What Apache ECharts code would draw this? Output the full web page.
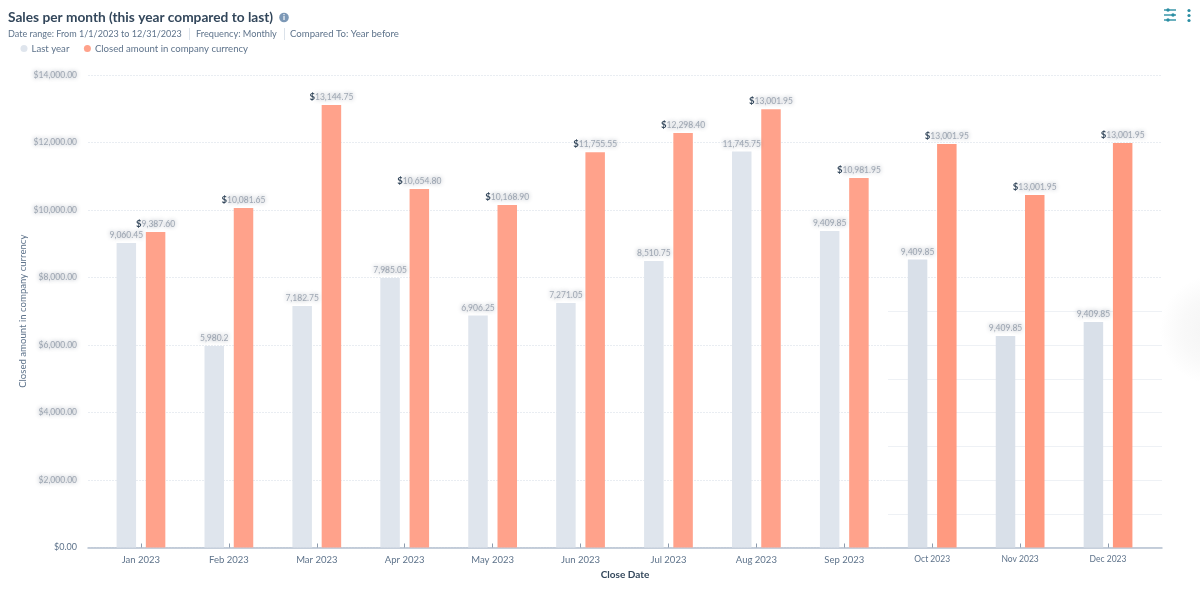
<!DOCTYPE html>
<html><head><meta charset="utf-8">
<style>html,body{margin:0;padding:0;background:#fff}#c{width:1200px;height:597px}</style>
<script src="https://cdn.jsdelivr.net/npm/echarts@6/dist/echarts.min.js"></script>
</head><body><div id="c"></div>
<script>
const categories=['Jan 2023','Feb 2023','Mar 2023','Apr 2023','May 2023','Jun 2023','Jul 2023','Aug 2023','Sep 2023','Oct 2023','Nov 2023','Dec 2023'];
const lastYear=[9022,5970,7155,7985,6874,7244,8489,11730,9378,8533,6267,6681];
const current=[9348,10059,13111,10625,10148,11710,12280,12985,10948,11955,10444,11985];
const lastYearLabels=['9,060.45','5,980.2','7,182.75','7,985.05','6,906.25','7,271.05','8,510.75','11,745.75','9,409.85','9,409.85','9,409.85','9,409.85'];
const currentLabels=['9,387.60','10,081.65','13,144.75','10,654.80','10,168.90','11,755.55','12,298.40','13,001.95','10,981.95','13,001.95','13,001.95','13,001.95'];
const yTicks=['$0.00','$2,000.00','$4,000.00','$6,000.00','$8,000.00','$10,000.00','$12,000.00','$14,000.00'];
const F='Lato';
const sub='#5e738b';
const blur={color:'rgba(95,110,130,0.55)',textShadowColor:'rgba(50,65,90,1)',textShadowBlur:4,fontFamily:F,fontSize:8.5};
const chart=echarts.init(document.getElementById('c'),null,{renderer:'canvas'});
const txt=(x,y,t,o={})=>({type:'text',x,y,silent:true,style:Object.assign({text:t,fill:sub,font:`9.2px ${F}`,textVerticalAlign:'middle'},o)});
const sep=x=>({type:'line',silent:true,shape:{x1:x,y1:28,x2:x,y2:40},style:{stroke:'#dbe2ea',lineWidth:1}});
const teal='#2b8ea3';
const slider=(y,kx)=>[{type:'line',silent:true,shape:{x1:1164,y1:y,x2:1176,y2:y},style:{stroke:teal,lineWidth:1.4}},{type:'circle',silent:true,shape:{cx:kx,cy:y,r:1.7},style:{fill:teal}}];
chart.setOption({
 animation:false,
 backgroundColor:'#fff',
 textStyle:{fontFamily:F},
 legend:{left:20.5,top:43.5,itemWidth:7,itemHeight:7,itemGap:14.5,icon:'circle',padding:[0,0,0,0],
  textStyle:{color:sub,fontSize:9.6,fontFamily:F,padding:[0,0,0,-1]},data:['Last year','Closed amount in company currency']},
 grid:[
  {left:88,right:38,top:75,height:472.5},
  {left:97,width:1055,top:75,height:472.5},
  {left:888,right:38,top:311.5,height:236}
 ],
 xAxis:[
  {gridIndex:0,type:'value',min:0,max:1,axisLine:{show:true,onZero:false,lineStyle:{color:'#b4c0cf',width:1.5}},axisTick:{show:false},axisLabel:{show:false},splitLine:{show:false},
   name:'Close Date',nameLocation:'middle',nameGap:22,nameTextStyle:{color:'#33475b',fontWeight:'bold',fontSize:10,fontFamily:F}},
  {gridIndex:1,type:'category',data:categories,axisLine:{show:false},axisTick:{show:true,inside:true,length:4,alignWithLabel:true,lineStyle:{color:'#8d9bad'}},
   axisLabel:{margin:7,interval:0,color:sub,fontSize:9.5,fontFamily:F,
    formatter:(v,i)=>i>=9?`{s|${v}}`:v,rich:{s:{fontSize:8.5,color:sub,fontFamily:F,padding:[0,0,5,0]}}},splitLine:{show:false}},
  {gridIndex:2,type:'value',min:0,max:1,show:false}
 ],
 yAxis:[
  {gridIndex:0,type:'value',min:0,max:14000,interval:2000,axisLine:{show:false},axisTick:{show:false},
   splitLine:{lineStyle:{color:'#e9edf2',width:1,type:[2,1]}},
   axisLabel:{margin:11,formatter:(v)=>{const t=yTicks[v/2000];return v===0?`{z|${t}}`:`{b|${t}}`},
    rich:{z:{color:sub,fontSize:9,fontFamily:F},b:blur}},
   name:'Closed amount in company currency',nameLocation:'middle',nameGap:60,nameMoveOverlap:false,nameTextStyle:{color:sub,fontSize:9.6,fontFamily:F}},
  {gridIndex:1,type:'value',min:0,max:14000,show:false},
  {gridIndex:2,type:'value',min:0,max:7000,interval:1000,axisLine:{show:false},axisTick:{show:false},axisLabel:{show:false},splitLine:{lineStyle:{color:'#eef1f5',width:1}}}
 ],
 series:[
  {type:'bar',name:'Last year',xAxisIndex:1,yAxisIndex:1,barWidth:19.5,barGap:'50%',itemStyle:{color:'#dfe5ed'},z:3,
   data:lastYear.map((v,i)=>i>=9?{value:v,itemStyle:{color:'#d9e0e9'}}:v),
   label:{show:true,position:'top',distance:3,formatter:p=>`{b|${lastYearLabels[p.dataIndex]}}`,rich:{b:blur}}},
  {type:'bar',name:'Closed amount in company currency',xAxisIndex:1,yAxisIndex:1,barWidth:19.5,itemStyle:{color:'#ffa28b'},z:3,
   data:current.map((v,i)=>i>=9?{value:v,itemStyle:{color:'#ff9a80'}}:v),
   label:{show:true,position:'top',distance:3,formatter:p=>`{d|$}{b|${currentLabels[p.dataIndex]}}`,rich:{d:{color:'#33475b',fontWeight:'bold',fontSize:9.5,fontFamily:F},b:blur}}}
 ],
 graphic:[
  {type:'circle',silent:true,z:-10,shape:{cx:1215,cy:330,r:55},style:{fill:{type:'radial',x:.5,y:.5,r:.5,colorStops:[{offset:0,color:'#f4f4f4'},{offset:.6,color:'#f9f9f9'},{offset:1,color:'#ffffff'}]}}},
  txt(8,17.5,'Sales per month (this year compared to last)',{fill:'#33475b',font:`bold 13.7px ${F}`}),
  {type:'circle',silent:true,shape:{cx:284,cy:17.5,r:4.8},style:{fill:'#7c98b6'}},
  txt(284,17.5,'i',{fill:'#fff',font:`bold 8px ${F}`,textAlign:'center'}),
  txt(8,34,'Date range: From 1/1/2023 to 12/31/2023',{font:`9.05px ${F}`}),sep(189.5),
  txt(196,34,'Frequency: Monthly'),sep(284.5),
  txt(290,34,'Compared To: Year before',{font:`9.6px ${F}`}),
  ...slider(10,1168),...slider(15,1173),...slider(20,1168),
  {type:'circle',silent:true,shape:{cx:1189,cy:10.5,r:1.6},style:{fill:teal}},
  {type:'circle',silent:true,shape:{cx:1189,cy:15.5,r:1.6},style:{fill:teal}},
  {type:'circle',silent:true,shape:{cx:1189,cy:20.5,r:1.6},style:{fill:teal}}
 ]
});
</script></body></html>
